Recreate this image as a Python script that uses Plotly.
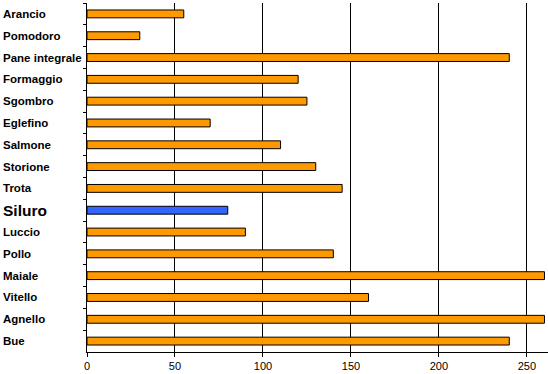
import plotly.graph_objects as go

categories = ["Arancio", "Pomodoro", "Pane integrale", "Formaggio", "Sgombro", "Eglefino",
              "Salmone", "Storione", "Trota", "Siluro", "Luccio", "Pollo", "Maiale",
              "Vitello", "Agnello", "Bue"]
values = [55, 30, 240, 120, 125, 70, 110, 130, 145, 80, 90, 140, 260, 160, 260, 240]
highlight = "Siluro"
x_ticks = [0, 50, 100, 150, 200, 250]

ORANGE = "#FF9900"
BLUE = "#3366FF"

colors = [BLUE if c == highlight else ORANGE for c in categories]

fig = go.Figure(go.Bar(
    x=values, y=categories, orientation="h",
    marker=dict(color=colors, line=dict(color="black", width=1)),
    width=0.36,
))

annotations = []
for c in categories:
    big = c == highlight
    annotations.append(dict(
        x=0, xref="paper", xshift=-86, xanchor="left",
        y=c, yref="y", yanchor="middle",
        text=c, showarrow=False,
        font=dict(family="Liberation Sans, Arial, sans-serif",
                  size=15.5 if big else 11.5, color="black",
                  weight="bold"),
    ))

fig.update_layout(
    width=548, height=374,
    margin=dict(l=87, r=0, t=3, b=22),
    paper_bgcolor="white", plot_bgcolor="white",
    showlegend=False,
    annotations=annotations,
    xaxis=dict(
        range=[0, 262], tickvals=x_ticks, ticktext=[str(v) for v in x_ticks],
        showgrid=True, gridcolor="black", gridwidth=1,
        showline=True, linecolor="black", linewidth=1,
        ticks="outside", ticklen=4, tickcolor="black",
        tickfont=dict(family="Liberation Sans, Arial, sans-serif", size=11, color="black"),
        zeroline=False, fixedrange=True,
    ),
    yaxis=dict(
        categoryorder="array", categoryarray=categories, autorange="reversed",
        showticklabels=False, tickson="boundaries",
        ticks="outside", ticklen=3, tickcolor="black",
        showline=True, linecolor="black", linewidth=1,
        showgrid=False, zeroline=False, fixedrange=True,
    ),
)

fig.write_html(
    "out.html",
    config={"displayModeBar": False},
    post_script="document.body.style.margin='0';document.body.style.padding='0';",
)
